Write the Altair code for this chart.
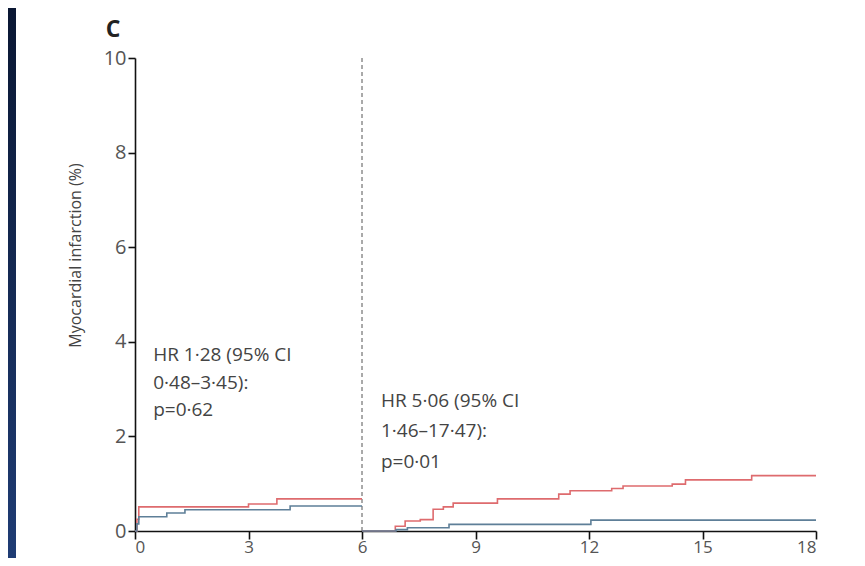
import altair as alt
import pandas as pd

# ---- data ----
# months since randomisation / cumulative incidence (%)
red_early_t = [0.0, 0.05, 0.10, 3.00, 3.75, 6.00]
red_early_v = [0.0, 0.25, 0.51, 0.57, 0.68, 0.68]
blue_early_t = [0.0, 0.05, 0.10, 0.84, 1.32, 4.10, 6.00]
blue_early_v = [0.0, 0.15, 0.30, 0.38, 0.45, 0.53, 0.53]

red_late_t = [6.0, 6.80, 6.88, 7.14, 7.54, 7.88, 8.15, 8.41, 9.58, 11.2, 11.5, 12.6, 12.9, 14.2, 14.55, 16.3, 18.0]
red_late_v = [0.0, 0.00, 0.10, 0.21, 0.24, 0.46, 0.51, 0.59, 0.68, 0.78, 0.85, 0.90, 0.95, 0.99, 1.08, 1.17, 1.17]
blue_late_t = [6.0, 6.90, 7.20, 8.30, 12.05, 18.0]
blue_late_v = [0.0, 0.03, 0.07, 0.14, 0.23, 0.23]

x_ticks = [0, 3, 6, 9, 12, 15, 18]
y_ticks = [0, 2, 4, 6, 8, 10]
landmark = [6]

ann_text = ["HR 1·28 (95% CI", "0·48–3·45):", "p=0·62",
            "HR 5·06 (95% CI", "1·46–17·47):", "p=0·01"]
ann_x = [0.48, 0.48, 0.48, 6.5, 6.5, 6.5]
ann_y = [3.59, 3.00, 2.43, 2.62, 1.99, 1.33]

panel_label = ["C"]
panel_x = [-0.58]
panel_y = [10.44]
y_title = "Myocardial infarction (%)"

RED = "#de6b6e"
BLUE = "#5e7f98"
FONT = "Open Sans"

rows = []
for seg, grp, ts, vs in [("r1", "red", red_early_t, red_early_v),
                         ("b1", "blue", blue_early_t, blue_early_v),
                         ("r2", "red", red_late_t, red_late_v),
                         ("b2", "blue", blue_late_t, blue_late_v)]:
    for t, v in zip(ts, vs):
        rows.append({"t": t, "v": v, "grp": grp, "seg": seg})
df = pd.DataFrame(rows)

xs = alt.Scale(domain=[0, 18], nice=False, zero=False)
ys = alt.Scale(domain=[0, 10], nice=False)

grad = alt.Gradient(
    gradient="linear",
    stops=[alt.GradientStop(color="#0a1733", offset=0),
           alt.GradientStop(color="#1f3c74", offset=1)],
    x1=0, x2=0, y1=0, y2=1,
)
frame = alt.Chart(pd.DataFrame({"a": [0]})).mark_rect(fill=grad).encode(
    x=alt.value(-127), x2=alt.value(-119), y=alt.value(-50), y2=alt.value(500)
)

lines = alt.Chart(df).mark_line(interpolate="step-after", strokeWidth=1.6).encode(
    x=alt.X("t:Q", scale=xs,
            axis=alt.Axis(values=x_ticks, title=None, tickSize=8, labelPadding=0,
                          labelFontSize=17)),
    y=alt.Y("v:Q", scale=ys,
            axis=alt.Axis(values=y_ticks, title=y_title, tickSize=7, labelPadding=2,
                          labelFontSize=20,
                          titleX=-60, titleY=197, titleAngle=270,
                          titleAlign="center", titleBaseline="middle",
                          titleFontSize=16, titleFontWeight="normal",
                          titleColor="#444", titleFont=FONT)),
    color=alt.Color("grp:N", scale=alt.Scale(domain=["red", "blue"], range=[RED, BLUE]),
                    legend=None),
    detail="seg:N",
)

rule = alt.Chart(pd.DataFrame({"x": landmark})).mark_rule(
    strokeDash=[4, 3], color="#555", strokeWidth=1
).encode(x=alt.X("x:Q", scale=xs))

ann = alt.Chart(pd.DataFrame({"x": ann_x, "y": ann_y, "s": ann_text})).mark_text(
    align="left", baseline="alphabetic", font=FONT, fontSize=19, color="#444"
).encode(x=alt.X("x:Q", scale=xs), y=alt.Y("y:Q", scale=ys), text="s:N")

label = alt.Chart(pd.DataFrame({"x": panel_x, "y": panel_y, "s": panel_label})).mark_text(
    align="center", baseline="alphabetic", font=FONT, fontSize=23, fontWeight="bold",
    color="#222"
).encode(x=alt.X("x:Q", scale=xs), y=alt.Y("y:Q", scale=ys), text="s:N")

chart = alt.layer(frame, rule, lines, ann, label).properties(
    width=681, height=473,
    autosize=alt.AutoSizeParams(type="none"),
    padding={"left": 127, "top": 50, "right": 41, "bottom": 27},
).configure(background="white").configure_view(stroke=None).configure_axis(
    grid=False, domainColor="#111", domainWidth=1.6, tickColor="#111", tickWidth=1.6,
    labelFont=FONT, labelColor="#555",
)

chart.save("out.html", embed_options={"renderer": "svg", "actions": False})
